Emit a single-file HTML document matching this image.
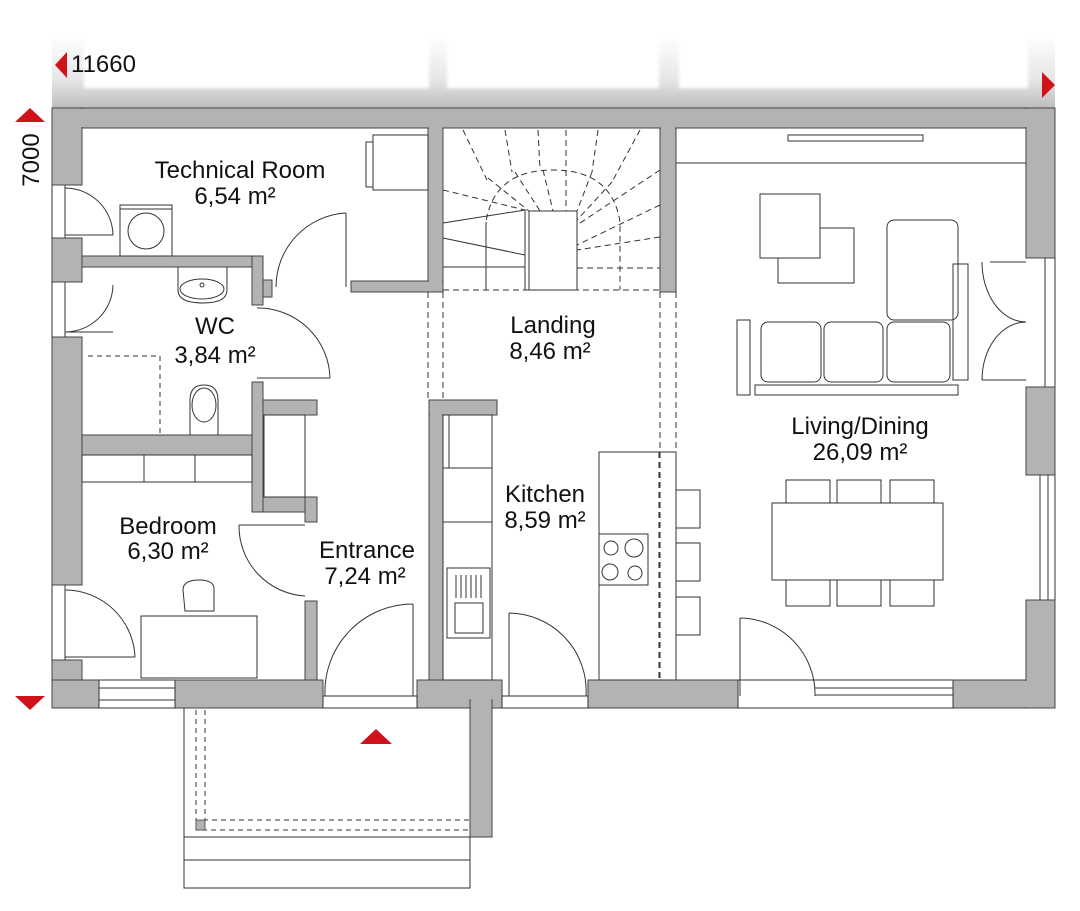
<!DOCTYPE html>
<html><head><meta charset="utf-8"><style>
html,body{margin:0;padding:0;background:#fff}
svg{display:block}
text{font-family:"Liberation Sans",sans-serif;fill:#111}
</style></head><body>
<svg width="1080" height="911" viewBox="0 0 1080 911" xmlns="http://www.w3.org/2000/svg">
<defs>
<linearGradient id="g" x1="0" y1="0" x2="0" y2="1"><stop offset="0" stop-color="#fff"/><stop offset="0.6" stop-color="#e6e6e6"/><stop offset="1" stop-color="#bdbdbd"/></linearGradient>
<filter id="b"><feGaussianBlur stdDeviation="1.5"/></filter>
</defs>
<!-- dimension strip -->
<rect x="52" y="36" width="1003" height="72" fill="url(#g)"/>
<g fill="#fff" filter="url(#b)">
<rect x="84" y="30" width="345" height="58"/><rect x="447" y="30" width="212" height="58"/><rect x="679" y="30" width="349" height="58"/>
</g>
<text x="71" y="72" font-size="24">11660</text>
<polygon points="67,52 55,65 67,78" fill="#d0131b"/>
<polygon points="1042,72 1055,85 1042,98" fill="#d0131b"/>
<polygon points="15,122 30,108 45,122" fill="#d0131b"/>
<polygon points="15,696 30,710 45,696" fill="#d0131b"/>
<text transform="translate(39,160) rotate(-90)" x="0" y="0" font-size="24" text-anchor="middle">7000</text>

<!-- walls -->
<g fill="#b3b3b3" stroke="#444" stroke-width="1">
<rect x="52" y="108" width="1003" height="20"/>
<rect x="52" y="108" width="30" height="77"/>
<rect x="52" y="238" width="30" height="44"/>
<rect x="52" y="337" width="30" height="248"/>
<rect x="52" y="660" width="30" height="48"/>
<rect x="52" y="680" width="47" height="28"/>
<rect x="82" y="256" width="181" height="11"/>
<rect x="252" y="256" width="11" height="49"/>
<rect x="263" y="280" width="9" height="17"/>
<rect x="428" y="128" width="15" height="164"/>
<rect x="351" y="281" width="92" height="11"/>
<rect x="252" y="382" width="11" height="130"/>
<rect x="263" y="400" width="54" height="15"/>
<rect x="263" y="497" width="54" height="15"/>
<rect x="305" y="497" width="12" height="25"/>
<rect x="82" y="435" width="170" height="20"/>
<rect x="305" y="601" width="12" height="79"/>
<rect x="175" y="680" width="148" height="28"/>
<rect x="417" y="680" width="85" height="28"/>
<rect x="470" y="700" width="22" height="137"/>
<rect x="429" y="400" width="14" height="280"/>
<rect x="429" y="400" width="68" height="15"/>
<rect x="588" y="680" width="150" height="28"/>
<rect x="953" y="680" width="102" height="28"/>
<rect x="660" y="128" width="16" height="164"/>
<rect x="1026" y="108" width="29" height="150"/>
<rect x="1026" y="387" width="29" height="88"/>
<rect x="1026" y="600" width="29" height="108"/>
</g>
<g fill="#b3b3b3">
<rect x="53" y="109" width="1001" height="18"/>
<rect x="53" y="681" width="45" height="26"/>
<rect x="471" y="699" width="20" height="8"/>
<rect x="430" y="401" width="12" height="278"/>
<rect x="253" y="257" width="9" height="47"/>
<rect x="429" y="127" width="13" height="164"/>
<rect x="661" y="127" width="14" height="164"/>
<rect x="1027" y="109" width="27" height="148"/>
<rect x="253" y="383" width="9" height="128"/>
<rect x="306" y="498" width="10" height="23"/>
<rect x="953" y="681" width="101" height="26"/>
<rect x="1027" y="601" width="27" height="106"/>
</g>

<g fill="none" stroke="#333" stroke-width="1">
<rect x="99" y="680" width="76" height="28"/><line x1="99" y1="688" x2="175" y2="688"/><line x1="99" y1="700" x2="175" y2="700"/>
<rect x="323" y="696" width="94" height="12"/>
<rect x="502" y="696" width="86" height="12"/>
<rect x="738" y="680" width="215" height="28"/><line x1="815" y1="688" x2="953" y2="688"/><line x1="815" y1="695" x2="953" y2="695"/>
<line x1="1040" y1="475" x2="1040" y2="600"/><line x1="1048" y1="475" x2="1048" y2="600"/><line x1="1055" y1="475" x2="1055" y2="600"/>
<line x1="1045" y1="258" x2="1045" y2="387"/><line x1="1055" y1="258" x2="1055" y2="387"/>
<line x1="52" y1="185" x2="52" y2="238"/><line x1="65" y1="185" x2="65" y2="238"/>
<line x1="52" y1="282" x2="52" y2="337"/><line x1="65" y1="282" x2="65" y2="337"/>
<line x1="52" y1="585" x2="52" y2="660"/><line x1="65" y1="585" x2="65" y2="660"/>
<line x1="65" y1="235" x2="113" y2="235"/><path d="M65,188 A48,48 0 0 1 113,235"/>
<line x1="65" y1="332" x2="113" y2="332"/><path d="M113,285 A48,48 0 0 1 65,332"/>
<line x1="346" y1="213" x2="346" y2="287"/><path d="M346,213 A74,74 0 0 0 276,287"/>
<line x1="257" y1="378" x2="330" y2="378"/><path d="M257,308 A72,72 0 0 1 330,378"/>
<line x1="239" y1="525" x2="305" y2="525"/><path d="M239,525 A70,70 0 0 0 305,596"/>
<line x1="65" y1="657" x2="135" y2="657"/><path d="M65,590 A70,70 0 0 1 135,657"/>
<line x1="413" y1="604" x2="413" y2="696"/><path d="M413,604 A88,88 0 0 0 325,696"/>
<line x1="509" y1="613" x2="509" y2="696"/><path d="M509,613 A78,78 0 0 1 586,696"/>
<line x1="740" y1="618" x2="740" y2="696"/><path d="M740,618 A76,76 0 0 1 815,696"/>
<line x1="990" y1="262" x2="1026" y2="262"/><path d="M982,262 A44,60 0 0 0 1026,322"/>
<line x1="982" y1="380" x2="1026" y2="380"/><path d="M982,380 A44,58 0 0 1 1026,322"/>
<rect x="373" y="135" width="55" height="55"/><rect x="366" y="142" width="7" height="45"/>
<rect x="120" y="205" width="52" height="51"/><line x1="120" y1="209" x2="172" y2="209"/><circle cx="146" cy="231" r="18"/>
<path d="M178,267 V290 Q178,303 203,303 Q227,303 227,290 V267"/><ellipse cx="202" cy="289" rx="22" ry="10"/><circle cx="202" cy="285" r="2"/>
<path d="M190,435 V400 Q190,385 204,385 Q218,385 218,400 V435"/><ellipse cx="204" cy="405" rx="12" ry="17"/>
<path d="M88,356 H160 V435" stroke-dasharray="5,4"/>
<rect x="82" y="455" width="170" height="27"/><line x1="144" y1="455" x2="144" y2="482"/><line x1="195" y1="455" x2="195" y2="482"/>
<rect x="264" y="415" width="41" height="82"/>
<rect x="141" y="616" width="116" height="62"/>
<path d="M185,611 L183,590 Q183,580 199,580 Q215,580 214,590 L214,611 Z"/>
<rect x="443" y="415" width="49" height="265"/><line x1="443" y1="468" x2="492" y2="468"/><line x1="443" y1="522" x2="492" y2="522"/>
<line x1="449" y1="415" x2="449" y2="468"/>
<rect x="447" y="568" width="43" height="70"/><rect x="455" y="603" width="28" height="30"/>
<path d="M456,575 V598 M461,575 V598 M466,575 V598 M471,575 V598 M476,575 V598 M481,575 V598"/>
<rect x="599" y="452" width="77" height="228"/>
<line x1="659" y1="452" x2="659" y2="680" stroke-dasharray="6,4"/>
<rect x="599" y="534" width="49" height="51"/>
<circle cx="611" cy="548" r="7"/><circle cx="634" cy="548" r="9"/><circle cx="610" cy="572" r="8"/><circle cx="635" cy="573" r="7"/>
<rect x="676" y="490" width="24" height="38"/><rect x="676" y="543" width="24" height="38"/><rect x="676" y="597" width="24" height="38"/>
<g stroke-dasharray="6,4">
<line x1="428" y1="292" x2="428" y2="400"/><line x1="443" y1="292" x2="443" y2="400"/>
<line x1="660" y1="292" x2="660" y2="680"/><line x1="676" y1="292" x2="676" y2="680"/>
<line x1="443" y1="290" x2="660" y2="290"/>
<path d="M486,290 V222 Q494,170 553,170 Q612,170 620,222 V290"/>
<line x1="463" y1="130" x2="487" y2="180"/><line x1="505" y1="130" x2="512" y2="172"/><line x1="538" y1="130" x2="540" y2="170"/>
<line x1="566" y1="130" x2="566" y2="170"/><line x1="598" y1="130" x2="592" y2="172"/><line x1="640" y1="130" x2="612" y2="182"/>
<line x1="443" y1="190" x2="529" y2="211"/><line x1="488" y1="178" x2="529" y2="211"/><line x1="515" y1="172" x2="540" y2="211"/>
<line x1="543" y1="170" x2="553" y2="211"/><line x1="566" y1="170" x2="566" y2="211"/><line x1="592" y1="172" x2="577" y2="211"/>
<line x1="612" y1="182" x2="577" y2="220"/><line x1="660" y1="170" x2="577" y2="225"/>
<line x1="660" y1="205" x2="577" y2="245"/><line x1="660" y1="237" x2="577" y2="250"/><line x1="577" y1="268" x2="660" y2="268"/>
</g>
<rect x="529" y="211" width="48" height="79"/>
<line x1="443" y1="223" x2="525" y2="210"/><line x1="486" y1="222" x2="486" y2="290"/>
<line x1="443" y1="267" x2="525" y2="267"/><line x1="443" y1="238" x2="525" y2="255"/><line x1="525" y1="211" x2="525" y2="290"/>
<line x1="676" y1="163" x2="1026" y2="163"/>
<rect x="788" y="135" width="135" height="6"/>
<rect x="778" y="228" width="76" height="55"/><rect x="760" y="194" width="60" height="64" fill="#fff"/>
<rect x="887" y="220" width="71" height="100" rx="7"/>
<rect x="953" y="264" width="15" height="116"/>
<rect x="761" y="322" width="60" height="60" rx="7"/><rect x="824" y="322" width="59" height="60" rx="7"/><rect x="887" y="322" width="63" height="60" rx="7"/>
<rect x="737" y="320" width="13" height="75"/>
<rect x="755" y="385" width="203" height="10"/>
<rect x="772" y="503" width="171" height="77"/>
<rect x="786" y="480" width="44" height="23"/><rect x="837" y="480" width="44" height="23"/><rect x="890" y="480" width="44" height="23"/>
<rect x="786" y="580" width="44" height="26"/><rect x="837" y="580" width="44" height="26"/><rect x="890" y="580" width="44" height="26"/>
<path d="M184,708 V837 H470"/>
<path d="M196,710 V830 H470 M205,710 V820 H470" stroke-dasharray="5,4"/>
<rect x="184" y="837" width="286" height="23"/><rect x="184" y="860" width="286" height="28"/>
</g>
<rect x="196" y="820" width="9" height="10" fill="#b3b3b3" stroke="#444" stroke-width="0.8"/>
<polygon points="360,744 376,729 392,744" fill="#d0131b"/>

<g font-size="24" text-anchor="middle">
<text x="240" y="178">Technical Room</text><text x="235" y="204">6,54 m²</text>
<text x="215" y="334">WC</text><text x="215" y="363">3,84 m²</text>
<text x="553" y="333">Landing</text><text x="550" y="359">8,46 m²</text>
<text x="860" y="434">Living/Dining</text><text x="860" y="460">26,09 m²</text>
<text x="545" y="502">Kitchen</text><text x="545" y="528">8,59 m²</text>
<text x="168" y="534">Bedroom</text><text x="168" y="559">6,30 m²</text>
<text x="367" y="558">Entrance</text><text x="365" y="584">7,24 m²</text>
</g>
</svg>
</body></html>
